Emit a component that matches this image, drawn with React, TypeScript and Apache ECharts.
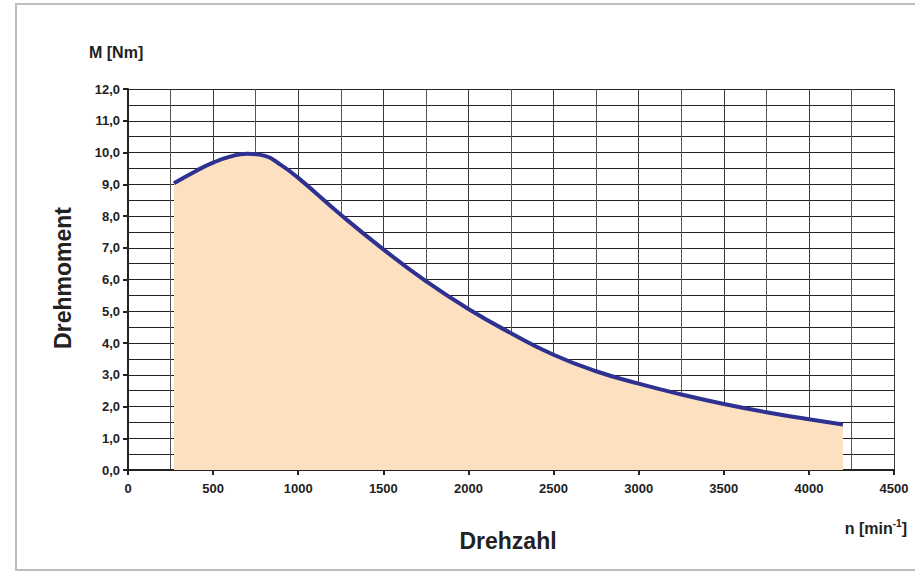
import React, { useEffect, useRef } from "react";
import * as echarts from "echarts";

const speeds = [270, 400, 500, 600, 700, 800, 900, 1000, 1250, 1500, 1750, 2000, 2250, 2500, 2750, 3000, 3250, 3500, 3750, 4000, 4200];
const torque = [9.03, 9.42, 9.68, 9.87, 9.96, 9.9, 9.6, 9.2, 8.04, 6.95, 5.95, 5.07, 4.31, 3.63, 3.11, 2.72, 2.38, 2.08, 1.82, 1.6, 1.43];
const xTicks = [0, 500, 1000, 1500, 2000, 2500, 3000, 3500, 4000, 4500];
const yTicks = [0, 1, 2, 3, 4, 5, 6, 7, 8, 9, 10, 11, 12];

export default function App() {
  const ref = useRef<HTMLDivElement>(null);
  useEffect(() => {
    if (!ref.current) return;
    const chart = echarts.init(ref.current, null, { renderer: "svg" });
    const font = "Liberation Sans, Arial, sans-serif";
    chart.setOption({
      animation: false,
      backgroundColor: "#ffffff",
      grid: { left: 128, right: 21, top: 89, bottom: 101, containLabel: false },
      xAxis: {
        type: "value",
        min: xTicks[0],
        max: xTicks[xTicks.length - 1],
        interval: 500,
        axisLine: { show: true, onZero: false, lineStyle: { color: "#222", width: 2 } },
        axisTick: { show: true, length: 5, lineStyle: { color: "#222", width: 2 } },
        axisLabel: {
          color: "#222",
          fontFamily: font,
          fontWeight: "bold",
          fontSize: 13,
          margin: 12,
          formatter: (v: number) => String(v),
        },
        splitLine: { show: true, lineStyle: { color: "#3a3a3a", width: 1 } },
        minorSplitLine: { show: true, lineStyle: { color: "#555", width: 1 } },
        minorTick: { show: false, splitNumber: 2 },
      },
      yAxis: {
        type: "value",
        min: yTicks[0],
        max: yTicks[yTicks.length - 1],
        interval: 1,
        axisLine: { show: true, lineStyle: { color: "#222", width: 2 } },
        axisTick: { show: true, length: 5, lineStyle: { color: "#222", width: 2 } },
        axisLabel: {
          color: "#222",
          fontFamily: font,
          fontWeight: "bold",
          fontSize: 13,
          margin: 8,
          formatter: (v: number) => v.toFixed(1).replace(".", ","),
        },
        splitLine: { show: true, lineStyle: { color: "#222", width: 1 } },
        minorSplitLine: { show: true, lineStyle: { color: "#222", width: 1 } },
        minorTick: { show: false, splitNumber: 2 },
      },
      series: [
        {
          type: "line",
          data: speeds.map((s, i) => [s, torque[i]]),
          smooth: 0.5,
          symbol: "none",
          lineStyle: { color: "#2e3192", width: 4, cap: "butt" },
          areaStyle: { color: "#fde0c0", opacity: 1 },
          z: 3,
        },
      ],
      graphic: [
        {
          type: "rect",
          shape: { x: 16, y: 4, width: 910, height: 566 },
          style: { fill: "none", stroke: "#bdbdc4", lineWidth: 2 },
          silent: true,
        },
        {
          type: "text",
          x: 89,
          y: 52,
          style: {
            text: "M [Nm]",
            fontFamily: font,
            fontWeight: "bold",
            fontSize: 16,
            fill: "#222",
            verticalAlign: "middle",
          },
        },
        {
          type: "text",
          x: 63,
          y: 278,
          rotation: Math.PI / 2,
          style: {
            text: "Drehmoment",
            fontFamily: font,
            fontWeight: "bold",
            fontSize: 23,
            fill: "#222",
            align: "center",
            verticalAlign: "middle",
          },
        },
        {
          type: "text",
          x: 508,
          y: 541,
          style: {
            text: "Drehzahl",
            fontFamily: font,
            fontWeight: "bold",
            fontSize: 23,
            fill: "#222",
            align: "center",
            verticalAlign: "middle",
          },
        },
        {
          type: "text",
          x: 907,
          y: 527,
          style: {
            text: "{a|n [min}{s|-1}{a|]}",
            align: "right",
            verticalAlign: "middle",
            rich: {
              a: { fontFamily: font, fontWeight: "bold", fontSize: 16, fill: "#222", verticalAlign: "bottom" },
              s: { fontFamily: font, fontWeight: "bold", fontSize: 10, fill: "#222", verticalAlign: "top", padding: [0, 0, 8, 0] },
            },
          },
        },
      ],
    });
    return () => chart.dispose();
  }, []);
  return (
    <div
      ref={ref}
      style={{ position: "fixed", left: 0, top: 0, width: 915, height: 571 }}
    />
  );
}
